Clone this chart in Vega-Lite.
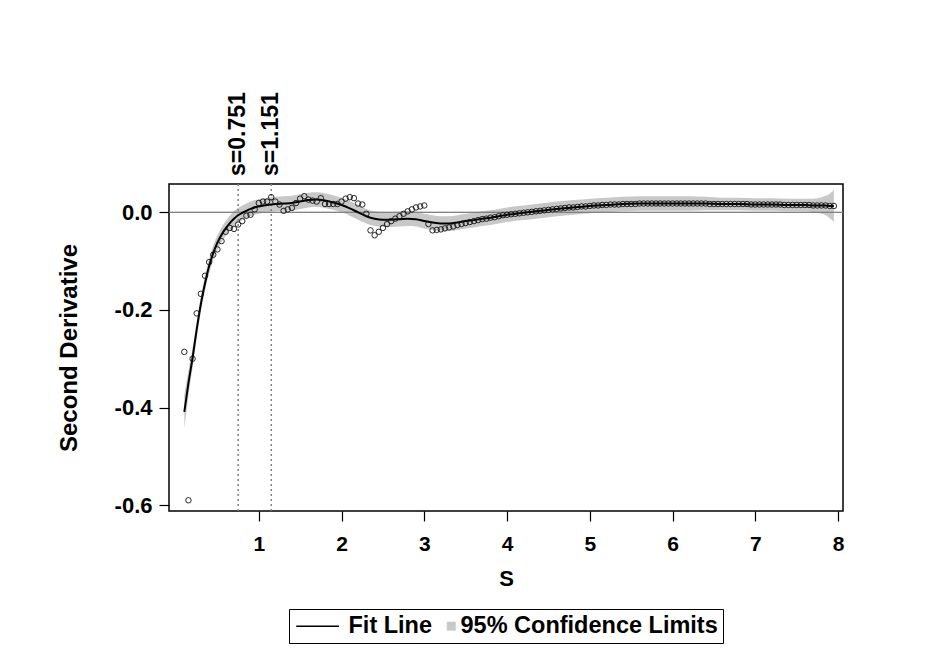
{
  "$schema": "https://vega.github.io/schema/vega-lite/v6.json",
  "width": 674,
  "height": 327,
  "padding": {"left": 57, "top": 92, "right": 20, "bottom": 20},
  "background": "white",
  "datasets": {
    "pts": [
      {"s": 0.1, "y": -0.286}, {"s": 0.15, "y": -0.59}, {"s": 0.2, "y": -0.3}, {"s": 0.25, "y": -0.207},
      {"s": 0.3, "y": -0.167}, {"s": 0.35, "y": -0.13}, {"s": 0.4, "y": -0.102}, {"s": 0.45, "y": -0.087},
      {"s": 0.5, "y": -0.076}, {"s": 0.55, "y": -0.059}, {"s": 0.6, "y": -0.04}, {"s": 0.65, "y": -0.032},
      {"s": 0.7, "y": -0.034}, {"s": 0.75, "y": -0.025}, {"s": 0.8, "y": -0.018}, {"s": 0.85, "y": -0.007},
      {"s": 0.9, "y": -0.005}, {"s": 0.95, "y": 0.006}, {"s": 1.0, "y": 0.019}, {"s": 1.05, "y": 0.022},
      {"s": 1.1, "y": 0.022}, {"s": 1.15, "y": 0.031}, {"s": 1.2, "y": 0.022}, {"s": 1.25, "y": 0.016},
      {"s": 1.3, "y": 0.003}, {"s": 1.35, "y": 0.006}, {"s": 1.4, "y": 0.009}, {"s": 1.45, "y": 0.019},
      {"s": 1.5, "y": 0.028}, {"s": 1.55, "y": 0.033}, {"s": 1.6, "y": 0.026}, {"s": 1.65, "y": 0.024},
      {"s": 1.7, "y": 0.022}, {"s": 1.75, "y": 0.029}, {"s": 1.8, "y": 0.017}, {"s": 1.85, "y": 0.017},
      {"s": 1.9, "y": 0.017}, {"s": 1.95, "y": 0.017}, {"s": 2.0, "y": 0.022}, {"s": 2.05, "y": 0.028},
      {"s": 2.1, "y": 0.031}, {"s": 2.15, "y": 0.029}, {"s": 2.2, "y": 0.018}, {"s": 2.25, "y": 0.016},
      {"s": 2.3, "y": -0.003}, {"s": 2.35, "y": -0.037}, {"s": 2.4, "y": -0.047}, {"s": 2.45, "y": -0.04},
      {"s": 2.5, "y": -0.032}, {"s": 2.55, "y": -0.024}, {"s": 2.6, "y": -0.018}, {"s": 2.65, "y": -0.013},
      {"s": 2.7, "y": -0.008}, {"s": 2.75, "y": -0.003}, {"s": 2.8, "y": 0.002}, {"s": 2.85, "y": 0.006},
      {"s": 2.9, "y": 0.01}, {"s": 2.95, "y": 0.012}, {"s": 3.0, "y": 0.014}, {"s": 3.05, "y": -0.024},
      {"s": 3.1, "y": -0.037}, {"s": 3.15, "y": -0.036}, {"s": 3.2, "y": -0.035}, {"s": 3.25, "y": -0.033},
      {"s": 3.3, "y": -0.031}, {"s": 3.35, "y": -0.029}, {"s": 3.4, "y": -0.026}, {"s": 3.45, "y": -0.024},
      {"s": 3.5, "y": -0.022}, {"s": 3.55, "y": -0.02}, {"s": 3.6, "y": -0.018}, {"s": 3.65, "y": -0.016},
      {"s": 3.7, "y": -0.014}, {"s": 3.75, "y": -0.013}, {"s": 3.8, "y": -0.011}, {"s": 3.85, "y": -0.01},
      {"s": 3.9, "y": -0.008}, {"s": 3.95, "y": -0.006}, {"s": 4.0, "y": -0.005}, {"s": 4.05, "y": -0.004},
      {"s": 4.1, "y": -0.003}, {"s": 4.15, "y": -0.002}, {"s": 4.2, "y": -0.001}, {"s": 4.25, "y": 0.0},
      {"s": 4.3, "y": 0.001}, {"s": 4.35, "y": 0.002}, {"s": 4.4, "y": 0.003}, {"s": 4.45, "y": 0.004},
      {"s": 4.5, "y": 0.005}, {"s": 4.55, "y": 0.006}, {"s": 4.6, "y": 0.007}, {"s": 4.65, "y": 0.008},
      {"s": 4.7, "y": 0.009}, {"s": 4.75, "y": 0.01}, {"s": 4.8, "y": 0.01}, {"s": 4.85, "y": 0.011},
      {"s": 4.9, "y": 0.012}, {"s": 4.95, "y": 0.012}, {"s": 5.0, "y": 0.013}, {"s": 5.05, "y": 0.014},
      {"s": 5.1, "y": 0.014}, {"s": 5.15, "y": 0.015}, {"s": 5.2, "y": 0.015}, {"s": 5.25, "y": 0.016},
      {"s": 5.3, "y": 0.016}, {"s": 5.35, "y": 0.016}, {"s": 5.4, "y": 0.017}, {"s": 5.45, "y": 0.017},
      {"s": 5.5, "y": 0.017}, {"s": 5.55, "y": 0.017}, {"s": 5.6, "y": 0.018}, {"s": 5.65, "y": 0.018},
      {"s": 5.7, "y": 0.018}, {"s": 5.75, "y": 0.018}, {"s": 5.8, "y": 0.018}, {"s": 5.85, "y": 0.018},
      {"s": 5.9, "y": 0.018}, {"s": 5.95, "y": 0.018}, {"s": 6.0, "y": 0.018}, {"s": 6.05, "y": 0.018},
      {"s": 6.1, "y": 0.018}, {"s": 6.15, "y": 0.018}, {"s": 6.2, "y": 0.018}, {"s": 6.25, "y": 0.018},
      {"s": 6.3, "y": 0.018}, {"s": 6.35, "y": 0.018}, {"s": 6.4, "y": 0.018}, {"s": 6.45, "y": 0.017},
      {"s": 6.5, "y": 0.017}, {"s": 6.55, "y": 0.017}, {"s": 6.6, "y": 0.017}, {"s": 6.65, "y": 0.017},
      {"s": 6.7, "y": 0.017}, {"s": 6.75, "y": 0.017}, {"s": 6.8, "y": 0.017}, {"s": 6.85, "y": 0.017},
      {"s": 6.9, "y": 0.017}, {"s": 6.95, "y": 0.016}, {"s": 7.0, "y": 0.016}, {"s": 7.05, "y": 0.016},
      {"s": 7.1, "y": 0.016}, {"s": 7.15, "y": 0.016}, {"s": 7.2, "y": 0.016}, {"s": 7.25, "y": 0.016},
      {"s": 7.3, "y": 0.016}, {"s": 7.35, "y": 0.015}, {"s": 7.4, "y": 0.015}, {"s": 7.45, "y": 0.015},
      {"s": 7.5, "y": 0.015}, {"s": 7.55, "y": 0.015}, {"s": 7.6, "y": 0.015}, {"s": 7.65, "y": 0.015},
      {"s": 7.7, "y": 0.014}, {"s": 7.75, "y": 0.014}, {"s": 7.8, "y": 0.014}, {"s": 7.85, "y": 0.014},
      {"s": 7.9, "y": 0.013}, {"s": 7.95, "y": 0.013}
    ],
    "fit": [
      {"s": 0.1, "fit": -0.409, "lo": -0.444, "hi": -0.374},
      {"s": 0.15, "fit": -0.35, "lo": -0.376, "hi": -0.324},
      {"s": 0.2, "fit": -0.298, "lo": -0.318, "hi": -0.278},
      {"s": 0.25, "fit": -0.24, "lo": -0.257, "hi": -0.223},
      {"s": 0.3, "fit": -0.188, "lo": -0.204, "hi": -0.172},
      {"s": 0.35, "fit": -0.146, "lo": -0.161, "hi": -0.131},
      {"s": 0.4, "fit": -0.11, "lo": -0.125, "hi": -0.095},
      {"s": 0.45, "fit": -0.083, "lo": -0.098, "hi": -0.068},
      {"s": 0.5, "fit": -0.062, "lo": -0.077, "hi": -0.047},
      {"s": 0.55, "fit": -0.046, "lo": -0.061, "hi": -0.031},
      {"s": 0.6, "fit": -0.033, "lo": -0.048, "hi": -0.018},
      {"s": 0.65, "fit": -0.022, "lo": -0.037, "hi": -0.007},
      {"s": 0.7, "fit": -0.013, "lo": -0.028, "hi": 0.002},
      {"s": 0.75, "fit": -0.006, "lo": -0.021, "hi": 0.009},
      {"s": 0.8, "fit": -0.001, "lo": -0.016, "hi": 0.014},
      {"s": 0.85, "fit": 0.003, "lo": -0.012, "hi": 0.018},
      {"s": 0.9, "fit": 0.007, "lo": -0.008, "hi": 0.022},
      {"s": 0.95, "fit": 0.01, "lo": -0.005, "hi": 0.025},
      {"s": 1.0, "fit": 0.012, "lo": -0.003, "hi": 0.027},
      {"s": 1.1, "fit": 0.015, "lo": 0.0, "hi": 0.03},
      {"s": 1.2, "fit": 0.017, "lo": 0.002, "hi": 0.032},
      {"s": 1.3, "fit": 0.018, "lo": 0.003, "hi": 0.033},
      {"s": 1.4, "fit": 0.019, "lo": 0.004, "hi": 0.034},
      {"s": 1.5, "fit": 0.022, "lo": 0.007, "hi": 0.037},
      {"s": 1.6, "fit": 0.025, "lo": 0.01, "hi": 0.04},
      {"s": 1.7, "fit": 0.026, "lo": 0.011, "hi": 0.041},
      {"s": 1.8, "fit": 0.024, "lo": 0.009, "hi": 0.039},
      {"s": 1.9, "fit": 0.02, "lo": 0.005, "hi": 0.035},
      {"s": 2.0, "fit": 0.015, "lo": 0.0, "hi": 0.03},
      {"s": 2.1, "fit": 0.008, "lo": -0.007, "hi": 0.023},
      {"s": 2.2, "fit": 0.0, "lo": -0.015, "hi": 0.015},
      {"s": 2.3, "fit": -0.008, "lo": -0.023, "hi": 0.007},
      {"s": 2.4, "fit": -0.013, "lo": -0.028, "hi": 0.002},
      {"s": 2.5, "fit": -0.015, "lo": -0.03, "hi": 0.0},
      {"s": 2.6, "fit": -0.015, "lo": -0.03, "hi": 0.0},
      {"s": 2.7, "fit": -0.014, "lo": -0.029, "hi": 0.001},
      {"s": 2.8, "fit": -0.013, "lo": -0.028, "hi": 0.002},
      {"s": 2.9, "fit": -0.014, "lo": -0.029, "hi": 0.001},
      {"s": 3.0, "fit": -0.018, "lo": -0.033, "hi": -0.003},
      {"s": 3.1, "fit": -0.021, "lo": -0.036, "hi": -0.006},
      {"s": 3.2, "fit": -0.023, "lo": -0.038, "hi": -0.008},
      {"s": 3.3, "fit": -0.023, "lo": -0.038, "hi": -0.008},
      {"s": 3.4, "fit": -0.021, "lo": -0.036, "hi": -0.006},
      {"s": 3.5, "fit": -0.018, "lo": -0.033, "hi": -0.003},
      {"s": 3.6, "fit": -0.016, "lo": -0.031, "hi": -0.001},
      {"s": 3.7, "fit": -0.013, "lo": -0.028, "hi": 0.002},
      {"s": 3.8, "fit": -0.011, "lo": -0.026, "hi": 0.004},
      {"s": 3.9, "fit": -0.008, "lo": -0.023, "hi": 0.007},
      {"s": 4.0, "fit": -0.005, "lo": -0.02, "hi": 0.01},
      {"s": 4.2, "fit": -0.001, "lo": -0.016, "hi": 0.014},
      {"s": 4.4, "fit": 0.003, "lo": -0.012, "hi": 0.018},
      {"s": 4.6, "fit": 0.007, "lo": -0.008, "hi": 0.022},
      {"s": 4.8, "fit": 0.01, "lo": -0.005, "hi": 0.025},
      {"s": 5.0, "fit": 0.013, "lo": -0.002, "hi": 0.028},
      {"s": 5.2, "fit": 0.015, "lo": 0.0, "hi": 0.03},
      {"s": 5.4, "fit": 0.017, "lo": 0.002, "hi": 0.032},
      {"s": 5.6, "fit": 0.018, "lo": 0.003, "hi": 0.033},
      {"s": 5.8, "fit": 0.018, "lo": 0.003, "hi": 0.033},
      {"s": 6.0, "fit": 0.018, "lo": 0.003, "hi": 0.033},
      {"s": 6.2, "fit": 0.018, "lo": 0.003, "hi": 0.033},
      {"s": 6.4, "fit": 0.018, "lo": 0.004, "hi": 0.032},
      {"s": 6.6, "fit": 0.017, "lo": 0.004, "hi": 0.03},
      {"s": 6.8, "fit": 0.017, "lo": 0.004, "hi": 0.03},
      {"s": 7.0, "fit": 0.016, "lo": 0.003, "hi": 0.029},
      {"s": 7.2, "fit": 0.016, "lo": 0.003, "hi": 0.029},
      {"s": 7.4, "fit": 0.015, "lo": 0.002, "hi": 0.028},
      {"s": 7.6, "fit": 0.015, "lo": 0.002, "hi": 0.028},
      {"s": 7.7, "fit": 0.014, "lo": 0.0, "hi": 0.028},
      {"s": 7.8, "fit": 0.014, "lo": -0.003, "hi": 0.031},
      {"s": 7.85, "fit": 0.014, "lo": -0.006, "hi": 0.034},
      {"s": 7.9, "fit": 0.013, "lo": -0.012, "hi": 0.038},
      {"s": 7.95, "fit": 0.013, "lo": -0.02, "hi": 0.046}
    ],
    "refs": [
      {"s": 0.751, "label": "s=0.751"},
      {"s": 1.151, "label": "s=1.151"}
    ]
  },
  "layer": [
    {
      "data": {"name": "fit"},
      "mark": {"type": "area", "interpolate": "monotone", "opacity": 1},
      "encoding": {
        "x": {
          "field": "s", "type": "quantitative", "title": "S",
          "scale": {"domain": [-0.085, 8.06], "nice": false, "zero": false},
          "axis": {"values": [1, 2, 3, 4, 5, 6, 7, 8], "format": "d", "labelPadding": 12, "titlePadding": 14}
        },
        "y": {
          "field": "lo", "type": "quantitative", "title": "Second Derivative",
          "scale": {"domain": [-0.612, 0.058], "nice": false, "zero": false},
          "axis": {
            "values": [-0.6, -0.4, -0.2, 0],
            "labelExpr": "datum.value == 0 ? '0.0' : '-' + format(abs(datum.value), '.1f')",
            "labelPadding": 7, "labelFontSize": 22, "titlePadding": 33, "titleFontSize": 24
          }
        },
        "y2": {"field": "hi"},
        "color": {
          "datum": "95% Confidence Limits",
          "scale": {"domain": ["Fit Line", "95% Confidence Limits"], "range": ["#000000", "#c8c8c8"]},
          "legend": {
            "title": null,
            "orient": "bottom",
            "direction": "horizontal",
            "symbolType": "stroke",
            "symbolSize": 361,
            "symbolStrokeWidth": 1.5,
            "labelOffset": 4,
            "labelLimit": 500,
            "columnPadding": 0,
            "padding": 5,
            "strokeColor": "#000000",
            "offset": 20,
            "encode": {
              "symbols": {
                "update": {
                  "shape": {"signal": "datum.value === 'Fit Line' ? 'M-1,0H3.5' : 'M0.26,-0.42H1.1V0.42H0.26Z'"},
                  "fill": {"signal": "datum.value === 'Fit Line' ? 'transparent' : '#c8c8c8'"},
                  "stroke": {"signal": "datum.value === 'Fit Line' ? '#000000' : '#777777'"},
                  "strokeWidth": {"signal": "datum.value === 'Fit Line' ? 1.5 : 1"},
                  "opacity": {"value": 1}
                }
              },
              "labels": {
                "update": {
                  "dx": {"signal": "datum.value === 'Fit Line' ? 27 : 0"}
                }
              }
            }
          }
        }
      }
    },
    {
      "data": {"name": "refs"},
      "mark": {"type": "rule", "color": "#808080", "strokeWidth": 1},
      "encoding": {"y": {"datum": 0}}
    },
    {
      "data": {"name": "refs"},
      "mark": {"type": "rule", "color": "#808080", "strokeWidth": 1.5, "strokeDash": [2, 3]},
      "encoding": {"x": {"field": "s", "type": "quantitative"}}
    },
    {
      "data": {"name": "fit"},
      "mark": {"type": "line", "interpolate": "monotone", "strokeWidth": 2},
      "encoding": {
        "x": {"field": "s", "type": "quantitative"},
        "y": {"field": "fit", "type": "quantitative"},
        "color": {
          "datum": "Fit Line",
          "legend": {
            "title": null,
            "orient": "bottom",
            "direction": "horizontal",
            "symbolType": "stroke",
            "symbolSize": 361,
            "symbolStrokeWidth": 1.5,
            "labelOffset": 4,
            "labelLimit": 500,
            "columnPadding": 0,
            "padding": 5,
            "strokeColor": "#000000",
            "offset": 20,
            "encode": {
              "symbols": {
                "update": {
                  "shape": {"signal": "datum.value === 'Fit Line' ? 'M-1,0H3.5' : 'M0.26,-0.42H1.1V0.42H0.26Z'"},
                  "fill": {"signal": "datum.value === 'Fit Line' ? 'transparent' : '#c8c8c8'"},
                  "stroke": {"signal": "datum.value === 'Fit Line' ? '#000000' : '#777777'"},
                  "strokeWidth": {"signal": "datum.value === 'Fit Line' ? 1.5 : 1"},
                  "opacity": {"value": 1}
                }
              },
              "labels": {
                "update": {
                  "dx": {"signal": "datum.value === 'Fit Line' ? 27 : 0"}
                }
              }
            }
          }
        }
      }
    },
    {
      "data": {"name": "pts"},
      "mark": {"type": "point", "shape": "circle", "filled": false, "stroke": "#111111", "strokeWidth": 0.9, "size": 30, "opacity": 1},
      "encoding": {
        "x": {"field": "s", "type": "quantitative"},
        "y": {"field": "y", "type": "quantitative"}
      }
    },
    {
      "data": {"name": "refs"},
      "mark": {
        "type": "text", "angle": 270, "align": "left", "baseline": "middle", "dx": 8,
        "font": "Liberation Sans", "fontSize": 23, "fontWeight": "bold", "color": "#000000"
      },
      "encoding": {
        "x": {"field": "s", "type": "quantitative"},
        "y": {"datum": 0.058},
        "text": {"field": "label"}
      }
    }
  ],
  "config": {
    "view": {"stroke": "#000000", "strokeWidth": 1.5},
    "axis": {
      "grid": false,
      "domain": false,
      "tickColor": "#000000",
      "tickSize": 10,
      "tickWidth": 1.2,
      "labelFont": "Liberation Sans",
      "labelFontSize": 21,
      "labelFontWeight": "bold",
      "labelColor": "#000000",
      "titleFont": "Liberation Sans",
      "titleFontSize": 22,
      "titleFontWeight": "bold",
      "titleColor": "#000000"
    },
    "legend": {
      "labelFont": "Liberation Sans",
      "labelFontSize": 23.5,
      "labelFontWeight": "bold",
      "labelColor": "#000000",
      "layout": {"bottom": {"anchor": "middle"}}
    }
  }
}
